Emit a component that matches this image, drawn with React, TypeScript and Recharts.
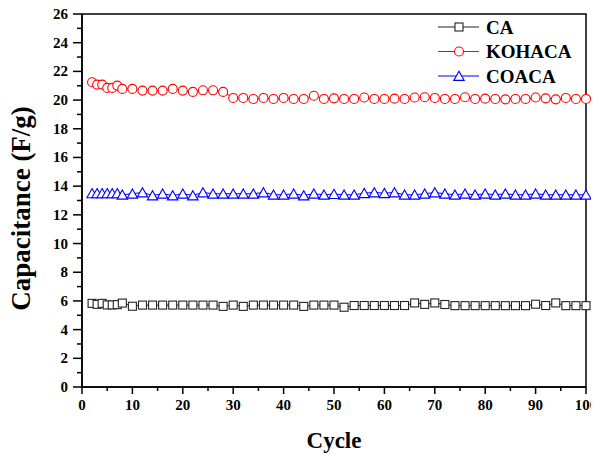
import React from 'react';
import { LineChart, Line, XAxis, YAxis, Legend, ReferenceArea } from 'recharts';

// Cycle numbers at which capacitance was recorded
const cycles = [
  2, 3, 4, 5, 6, 7, 8, 10, 12, 14, 16, 18, 20, 22, 24, 26, 28, 30, 32, 34, 36, 38, 40, 42, 44, 46, 48, 50,
  52, 54, 56, 58, 60, 62, 64, 66, 68, 70, 72, 74, 76, 78, 80, 82, 84, 86, 88, 90, 92, 94, 96, 98, 100,
];

// Specific capacitance (F/g) per sample
const caValues = [
  5.83, 5.76, 5.83, 5.72, 5.72, 5.74, 5.85,
  5.63, 5.71, 5.71, 5.71, 5.71, 5.71, 5.71, 5.71, 5.71, 5.62,
  5.71, 5.62, 5.71, 5.71, 5.71, 5.71, 5.71, 5.62, 5.71, 5.71, 5.71,
  5.56, 5.68, 5.68, 5.68, 5.68, 5.68, 5.68, 5.86, 5.76, 5.86, 5.75,
  5.67, 5.67, 5.67, 5.67, 5.67, 5.67, 5.67, 5.67, 5.77, 5.68, 5.86, 5.67, 5.67, 5.67,
];

const kohacaValues = [
  21.24, 21.08, 21.08, 20.85, 20.85, 21.01, 20.78,
  20.78, 20.66, 20.66, 20.66, 20.78, 20.66, 20.57, 20.68, 20.68, 20.57,
  20.15, 20.15, 20.08, 20.15, 20.08, 20.15, 20.08, 20.08, 20.3, 20.08, 20.12,
  20.08, 20.08, 20.18, 20.08, 20.08, 20.1, 20.08, 20.18, 20.2, 20.15, 20.08,
  20.08, 20.2, 20.08, 20.1, 20.08, 20.05, 20.08, 20.08, 20.18, 20.12, 20.05, 20.15, 20.08, 20.08,
];

const coacaValues = [
  13.5, 13.5, 13.5, 13.5, 13.5, 13.5, 13.4,
  13.47, 13.56, 13.35, 13.47, 13.35, 13.47, 13.35, 13.56, 13.47, 13.47,
  13.47, 13.47, 13.47, 13.56, 13.4, 13.4, 13.47, 13.35, 13.47, 13.4, 13.45,
  13.4, 13.4, 13.51, 13.56, 13.51, 13.56, 13.4, 13.4, 13.47, 13.56, 13.47,
  13.4, 13.47, 13.4, 13.47, 13.4, 13.47, 13.4, 13.4, 13.47, 13.4, 13.4, 13.4, 13.4, 13.4,
];

const xTicks = [0, 5, 10, 15, 20, 25, 30, 35, 40, 45, 50, 55, 60, 65, 70, 75, 80, 85, 90, 95, 100];
const yTicks = [0, 1, 2, 3, 4, 5, 6, 7, 8, 9, 10, 11, 12, 13, 14, 15, 16, 17, 18, 19, 20, 21, 22, 23, 24, 25, 26];

const seriesNames = ['CA', 'KOHACA', 'COACA'];
const seriesColors = ['#222222', '#ff0000', '#0000ff'];

const data = cycles.map((c, i) => ({
  cycle: c,
  CA: caValues[i],
  KOHACA: kohacaValues[i],
  COACA: coacaValues[i],
}));

const FONT = '"Liberation Serif", "Times New Roman", serif';

type MarkProps = { cx: number; cy: number; color: string };

const SquareMark = ({ cx, cy, color }: MarkProps) => (
  <rect x={cx - 4} y={cy - 4} width={8} height={8} fill="#fff" stroke={color} strokeWidth={1.1} />
);

const CircleMark = ({ cx, cy, color }: MarkProps) => (
  <circle cx={cx} cy={cy} r={4.5} fill="#fff" stroke={color} strokeWidth={1.1} />
);

const TriangleMark = ({ cx, cy, color }: MarkProps) => (
  <path
    d={`M${cx},${cy - 4.8} L${cx + 5.2},${cy + 4.4} L${cx - 5.2},${cy + 4.4} Z`}
    fill="#fff"
    stroke={color}
    strokeWidth={1.1}
  />
);

const markers = [SquareMark, CircleMark, TriangleMark];

const makeDot = (seriesIndex: number) => (props: any) => {
  const Mark = markers[seriesIndex];
  if (props.cx == null || props.cy == null) return <g key={`d-${seriesIndex}-${props.index}`} />;
  return (
    <g key={`d-${seriesIndex}-${props.index}`}>
      <Mark cx={props.cx} cy={props.cy} color={seriesColors[seriesIndex]} />
    </g>
  );
};

const textStyle = { fontFamily: FONT, fontWeight: 700 };

const YTick = (props: any) => {
  const { x, y, payload } = props;
  const major = payload.value % 2 === 0;
  return (
    <g>
      <line x1={x - (major ? 9 : 5)} x2={x} y1={y} y2={y} stroke="#000" strokeWidth={1.5} />
      {major && (
        <text x={x - 14} y={y} dy={5} textAnchor="end" fontSize={15} style={textStyle} fill="#000">
          {payload.value}
        </text>
      )}
    </g>
  );
};

const XTick = (props: any) => {
  const { x, y, payload } = props;
  const major = payload.value % 10 === 0;
  return (
    <g>
      <line x1={x} x2={x} y1={y} y2={y + (major ? 7 : 4)} stroke="#000" strokeWidth={1.5} />
      {major && (
        <text x={x} y={y + 23} textAnchor="middle" fontSize={15} style={textStyle} fill="#000">
          {payload.value}
        </text>
      )}
    </g>
  );
};

const XTitle = (props: any) => {
  const vb = props.viewBox;
  return (
    <text x={vb.x + vb.width / 2} y={vb.y + 61} textAnchor="middle" fontSize={23} style={textStyle} fill="#000">
      Cycle
    </text>
  );
};

const YTitle = (props: any) => {
  const vb = props.viewBox;
  const cx = vb.x + 21;
  const cy = vb.y + vb.height / 2 + 8;
  return (
    <text
      x={cx}
      y={cy}
      transform={`rotate(-90, ${cx}, ${cy})`}
      textAnchor="middle"
      dominantBaseline="central"
      fontSize={27}
      style={textStyle}
      fill="#000"
    >
      Capacitance (F/g)
    </text>
  );
};

const LegendBox = () => (
  <svg width={160} height={76} style={{ display: 'block', overflow: 'visible' }}>
    {seriesNames.map((name, i) => {
      const rowY = 13 + i * 24.5;
      const Mark = markers[i];
      return (
        <g key={name}>
          <line x1={10} x2={51} y1={rowY} y2={rowY} stroke={seriesColors[i]} strokeWidth={1.1} />
          <Mark cx={31} cy={rowY} color={seriesColors[i]} />
          <text x={58} y={rowY + 6.5} fontSize={19} style={textStyle} fill="#000">
            {name}
          </text>
        </g>
      );
    })}
  </svg>
);

export default function App() {
  return (
    <div style={{ width: 599, height: 456, margin: '-8px 0 0 -8px' }}>
      <LineChart width={599} height={456} data={data} margin={{ top: 14, right: 13, bottom: 0, left: 0 }}>
        <XAxis
          dataKey="cycle"
          type="number"
          domain={[0, 100]}
          ticks={xTicks}
          interval={0}
          tickSize={0}
          tickMargin={0}
          tickLine={false}
          axisLine={{ stroke: '#000', strokeWidth: 1.5 }}
          height={69}
          tick={<XTick />}
          label={{ content: XTitle }}
        />
        <YAxis
          type="number"
          domain={[0, 26]}
          ticks={yTicks}
          interval={0}
          tickSize={0}
          tickMargin={0}
          tickLine={false}
          axisLine={{ stroke: '#000', strokeWidth: 1.5 }}
          width={82}
          tick={<YTick />}
          label={{ content: YTitle }}
        />
        <ReferenceArea x1={0} x2={100} y1={0} y2={26} fill="none" fillOpacity={0} stroke="#000" strokeWidth={1.5} />
        {seriesNames.map((name, i) => (
          <Line
            key={name}
            dataKey={name}
            stroke={seriesColors[i]}
            strokeWidth={1}
            dot={makeDot(i)}
            activeDot={false}
            isAnimationActive={false}
          />
        ))}
        <Legend
          layout="vertical"
          align="center"
          verticalAlign="middle"
          wrapperStyle={{ left: 428, top: 14, width: 160 }}
          content={<LegendBox />}
        />
      </LineChart>
    </div>
  );
}
